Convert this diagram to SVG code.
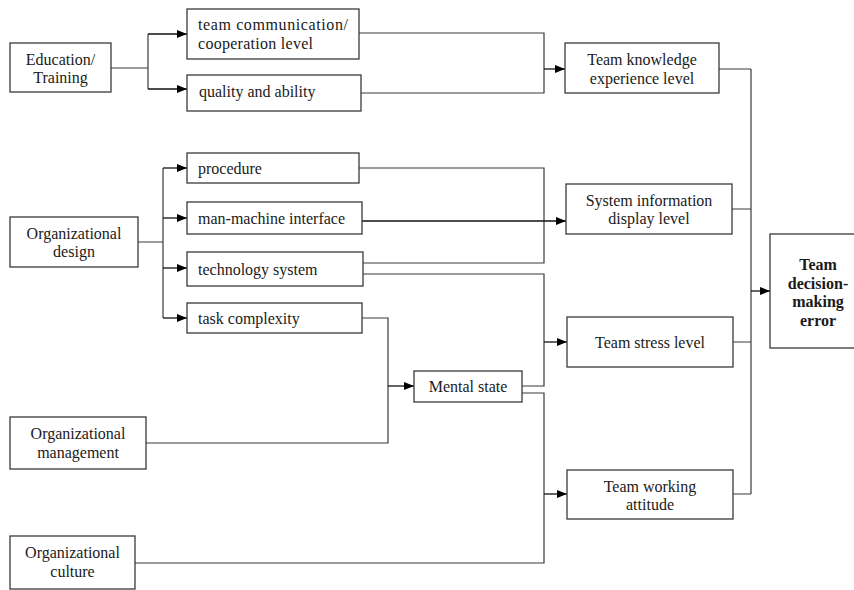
<svg xmlns="http://www.w3.org/2000/svg" width="854" height="590" viewBox="0 0 854 590">
<defs>
<marker id="arr" markerUnits="userSpaceOnUse" markerWidth="11" markerHeight="9" refX="10" refY="4" orient="auto">
<path d="M0,0 L10,4 L0,8 z" fill="#000"/>
</marker>
<style>
.box{fill:#fff;stroke:#3a3a3a;stroke-width:1.3}
.t{font-family:"Liberation Serif","Times New Roman",serif;font-size:16px;fill:#1a1a1a}
.c{text-anchor:middle}
.b{font-weight:bold}
.ln{fill:none;stroke:#3a3a3a;stroke-width:1.2}
.ar{fill:none;stroke:#111;stroke-width:1.3;marker-end:url(#arr)}
</style>
</defs>
<rect width="854" height="590" fill="#fff"/>
<g id="connectors">
<path class="ln" d="M111 68 H148 M148 34 V89"/>
<path class="ar" d="M148 34 H187"/>
<path class="ar" d="M148 89 H187"/>
<path class="ln" d="M359 33 H544 V93 H361"/>
<path class="ar" d="M544 69 H565"/>
<path class="ln" d="M138 242 H163 M163 168 V318"/>
<path class="ar" d="M163 168 H187"/>
<path class="ar" d="M163 218 H187"/>
<path class="ar" d="M163 268 H187"/>
<path class="ar" d="M163 318 H187"/>
<path class="ln" d="M359 168 H544 V263 H363"/>
<path class="ar" d="M362 221 H566" style="stroke-width:1.6"/>
<path class="ln" d="M363 274 H544 V386 H522"/>
<path class="ar" d="M544 342 H567"/>
<path class="ln" d="M362 318 H388 V443 H146"/>
<path class="ar" d="M388 386 H414"/>
<path class="ln" d="M522 393 H544 V563 H135"/>
<path class="ar" d="M544 494 H567"/>
<path class="ln" d="M719 69 H751 M732 209 H751 M733 342 H751 M733 494 H751 M751 69 V494"/>
<path class="ar" d="M751 291 H770"/>
</g>
<g id="edu"><rect class="box" x="10" y="43" width="101" height="49"/><text class="t c" x="60.5" y="65">Education/</text><text class="t c" x="60.5" y="83">Training</text></g>
<g id="comm"><rect class="box" x="187" y="9" width="172" height="50"/><text class="t" x="198" y="30" textLength="150" lengthAdjust="spacing">team communication/</text><text class="t" x="198" y="49" textLength="115" lengthAdjust="spacing">cooperation level</text></g>
<g id="qual"><rect class="box" x="187" y="75" width="174" height="36"/><text class="t" x="199" y="97">quality and ability</text></g>
<g id="tk"><rect class="box" x="565" y="43" width="154" height="50"/><text class="t c" x="642" y="65">Team knowledge</text><text class="t c" x="642" y="84">experience level</text></g>
<g id="od"><rect class="box" x="10" y="217" width="128" height="50"/><text class="t c" x="74" y="238.5">Organizational</text><text class="t c" x="74" y="256.5">design</text></g>
<g id="proc"><rect class="box" x="187" y="153" width="172" height="30"/><text class="t" x="198" y="173.5">procedure</text></g>
<g id="mmi"><rect class="box" x="187" y="202" width="175" height="32"/><text class="t" x="198" y="223.5">man-machine interface</text></g>
<g id="tech"><rect class="box" x="187" y="252" width="176" height="34"/><text class="t" x="198" y="274.5">technology system</text></g>
<g id="task"><rect class="box" x="187" y="303" width="175" height="30"/><text class="t" x="198" y="323.5">task complexity</text></g>
<g id="sid"><rect class="box" x="566" y="184" width="166" height="50"/><text class="t c" x="649" y="206">System information</text><text class="t c" x="649" y="224">display level</text></g>
<g id="ts"><rect class="box" x="567" y="317" width="166" height="50"/><text class="t c" x="650" y="347.5">Team stress level</text></g>
<g id="tdm"><rect class="box" x="770" y="234" width="96" height="114"/><text class="t c b" x="818" y="270">Team</text><text class="t c b" x="818" y="288.5">decision-</text><text class="t c b" x="818" y="307">making</text><text class="t c b" x="818" y="325.5">error</text></g>
<g id="ms"><rect class="box" x="414" y="371" width="108" height="31"/><text class="t c" x="468" y="392">Mental state</text></g>
<g id="om"><rect class="box" x="10" y="417" width="136" height="52"/><text class="t c" x="78" y="439">Organizational</text><text class="t c" x="78" y="457.5">management</text></g>
<g id="tw"><rect class="box" x="567" y="470" width="166" height="49"/><text class="t c" x="650" y="492">Team working</text><text class="t c" x="650" y="510">attitude</text></g>
<g id="oc"><rect class="box" x="10" y="536" width="125" height="53"/><text class="t c" x="72.5" y="558">Organizational</text><text class="t c" x="72.5" y="577">culture</text></g>
</svg>
